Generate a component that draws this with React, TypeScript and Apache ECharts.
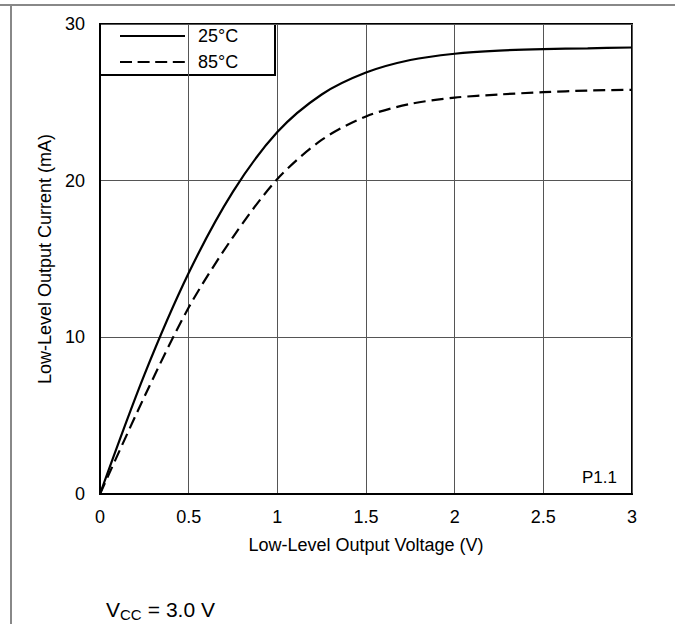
import React, { useEffect, useRef } from "react";
import * as echarts from "echarts";

const voltage = [0, 0.25, 0.5, 0.75, 1, 1.25, 1.5, 1.75, 2, 2.25, 2.5, 2.75, 3];
const current25 = [0, 7.6, 14.1, 19.3, 23.1, 25.5, 26.9, 27.7, 28.1, 28.3, 28.4, 28.45, 28.5];
const current85 = [0, 6.2, 11.9, 16.4, 20.1, 22.6, 24.1, 24.9, 25.3, 25.5, 25.65, 25.75, 25.8];
const seriesNames = ["25°C", "85°C"];
const xAxisTitle = "Low-Level Output Voltage (V)";
const yAxisTitle = "Low-Level Output Current (mA)";
const plotTag = "P1.1";

const FONT = "'Liberation Sans', Arial, sans-serif";
const DASH = [12, 6];

export default function App() {
  const ref = useRef<HTMLDivElement>(null);
  useEffect(() => {
    if (!ref.current) return;
    const chart = echarts.init(ref.current, undefined, { renderer: "svg" });
    const pair = (ys: number[]) => voltage.map((x, i) => [x, ys[i]]);
    chart.setOption({
      animation: false,
      backgroundColor: "#fff",
      textStyle: { fontFamily: FONT },
      grid: {
        left: 100,
        top: 24,
        right: 43,
        bottom: 130,
        show: true,
        borderColor: "#000",
        borderWidth: 2,
        backgroundColor: "transparent",
      },
      xAxis: {
        type: "value",
        min: 0,
        max: 3,
        interval: 0.5,
        name: xAxisTitle,
        nameLocation: "middle",
        nameGap: 42,
        nameTextStyle: { fontSize: 18, color: "#000", fontFamily: FONT },
        axisLine: { show: true, lineStyle: { color: "#000", width: 2 } },
        axisTick: { show: false },
        axisLabel: { fontSize: 18, color: "#000", margin: 14, fontFamily: FONT },
        splitLine: { show: true, lineStyle: { color: "#555", width: 1 } },
      },
      yAxis: {
        type: "value",
        min: 0,
        max: 30,
        interval: 10,
        name: yAxisTitle,
        nameLocation: "middle",
        nameGap: 46,
        nameTextStyle: { fontSize: 18, color: "#000", fontFamily: FONT },
        axisLine: { show: true, lineStyle: { color: "#000", width: 2 } },
        axisTick: { show: false },
        axisLabel: { fontSize: 18, color: "#000", margin: 15, fontFamily: FONT },
        splitLine: { show: true, lineStyle: { color: "#555", width: 1 } },
      },
      series: [
        {
          name: seriesNames[0],
          type: "line",
          data: pair(current25),
          smooth: 0.3,
          symbol: "none",
          lineStyle: { color: "#000", width: 2.2, type: "solid" },
          itemStyle: { color: "#000" },
        },
        {
          name: seriesNames[1],
          type: "line",
          data: pair(current85),
          smooth: 0.3,
          symbol: "none",
          lineStyle: { color: "#000", width: 2.2, type: DASH },
          itemStyle: { color: "#000" },
        },
      ],
      graphic: [
        { type: "line", shape: { x1: 0, y1: 5, x2: 675, y2: 5 }, style: { stroke: "#888", lineWidth: 2 } },
        { type: "line", shape: { x1: 11, y1: 5, x2: 11, y2: 624 }, style: { stroke: "#888", lineWidth: 2 } },
        {
          type: "group",
          z: 10,
          children: [
            {
              type: "rect",
              shape: { x: 100, y: 24, width: 175, height: 51 },
              style: { fill: "#fff", stroke: "#000", lineWidth: 2 },
            },
            {
              type: "line",
              shape: { x1: 120, y1: 36, x2: 185, y2: 36 },
              style: { stroke: "#000", lineWidth: 2.2 },
            },
            {
              type: "line",
              shape: { x1: 120, y1: 62, x2: 185, y2: 62 },
              style: { stroke: "#000", lineWidth: 2.2, lineDash: [12, 5.6] },
            },
            {
              type: "text",
              x: 198,
              y: 36,
              style: { text: seriesNames[0], fontSize: 18, fill: "#000", verticalAlign: "middle", fontFamily: FONT },
            },
            {
              type: "text",
              x: 198,
              y: 62,
              style: { text: seriesNames[1], fontSize: 18, fill: "#000", verticalAlign: "middle", fontFamily: FONT },
            },
          ],
        },
        {
          type: "text",
          x: 617,
          y: 477,
          style: { text: plotTag, fontSize: 17, fill: "#000", align: "right", verticalAlign: "middle", fontFamily: FONT },
        },
        {
          type: "text",
          x: 106,
          y: 609,
          style: { text: "V", fontSize: 21, fill: "#000", align: "left", verticalAlign: "middle", fontFamily: FONT },
        },
        {
          type: "text",
          x: 120,
          y: 614,
          style: { text: "CC", fontSize: 15, fill: "#000", align: "left", verticalAlign: "middle", fontFamily: FONT },
        },
        {
          type: "text",
          x: 142,
          y: 609,
          style: { text: " = 3.0 V", fontSize: 21, fill: "#000", align: "left", verticalAlign: "middle", fontFamily: FONT },
        },
      ],
    });
    return () => chart.dispose();
  }, []);
  return (
    <div
      ref={ref}
      style={{ position: "fixed", left: 0, top: 0, width: 675, height: 624, background: "#fff" }}
    />
  );
}
